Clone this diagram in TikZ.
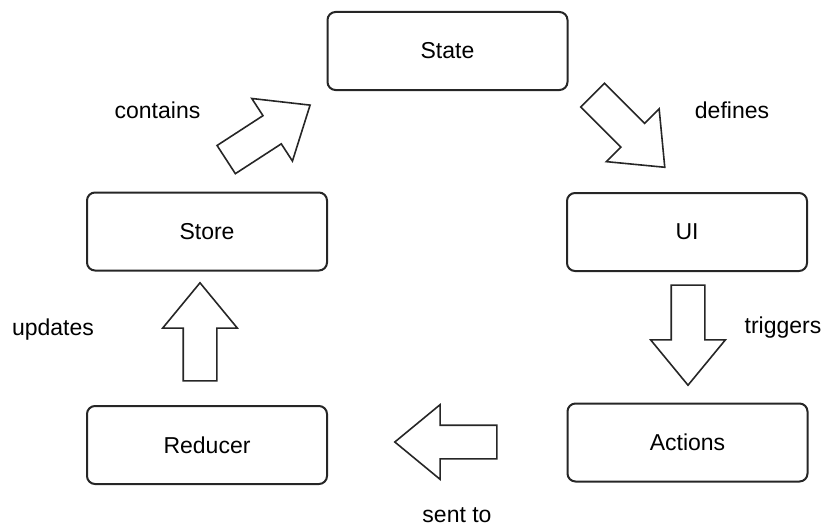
\documentclass[tikz,border=0pt]{standalone}
\usepackage{fontspec}
\setmainfont{Liberation Sans}
\usetikzlibrary{shapes.arrows}
\begin{document}
\begin{tikzpicture}[x=1pt, y=-1pt,
  every node/.style={font=\fontsize{23}{27}\selectfont},
  stage/.style={draw=black!85, line width=2pt, rounded corners=8pt,
    minimum width=240pt, minimum height=78pt},
  flow/.style={draw=black!85, line width=1.6pt, single arrow, inner sep=0pt,
    text height=32pt, text depth=0pt, single arrow head extend=20.5pt,
    single arrow tip angle=79},
  note/.style={}]
\useasboundingbox (0,0) rectangle (827,527);
\node [stage] (state) at (447.5, 51) {State};
\node [stage] (store) at (207, 231.5) {Store};
\node [stage] (ui) at (687, 232) {UI};
\node [stage] (reducer) at (207, 445) {Reducer};
\node [stage] (actions) at (687.5, 442.5) {Actions};
\node [flow, minimum height=100pt, rotate=33] (contains) at (259.6, 137.9) {};
\node [flow, minimum height=102pt, rotate=-45] (defines) at (621.5, 124) {};
\node [flow, minimum height=100pt, rotate=-90] (triggers) at (688, 325) {};
\node [flow, minimum height=102pt, rotate=180] (sentto) at (456, 442) {};
\node [flow, minimum height=98pt, rotate=90] (updates) at (200, 342) {};
\node [note] (containslabel) at (157.5, 110) {contains};
\node [note] (defineslabel) at (732, 110) {defines};
\node [note] (triggerslabel) at (783, 328) {triggers};
\node [note] (sentlabel) at (457, 515) {sent to};
\node [note] (updateslabel) at (53, 330) {updates};
\end{tikzpicture}
\end{document}
